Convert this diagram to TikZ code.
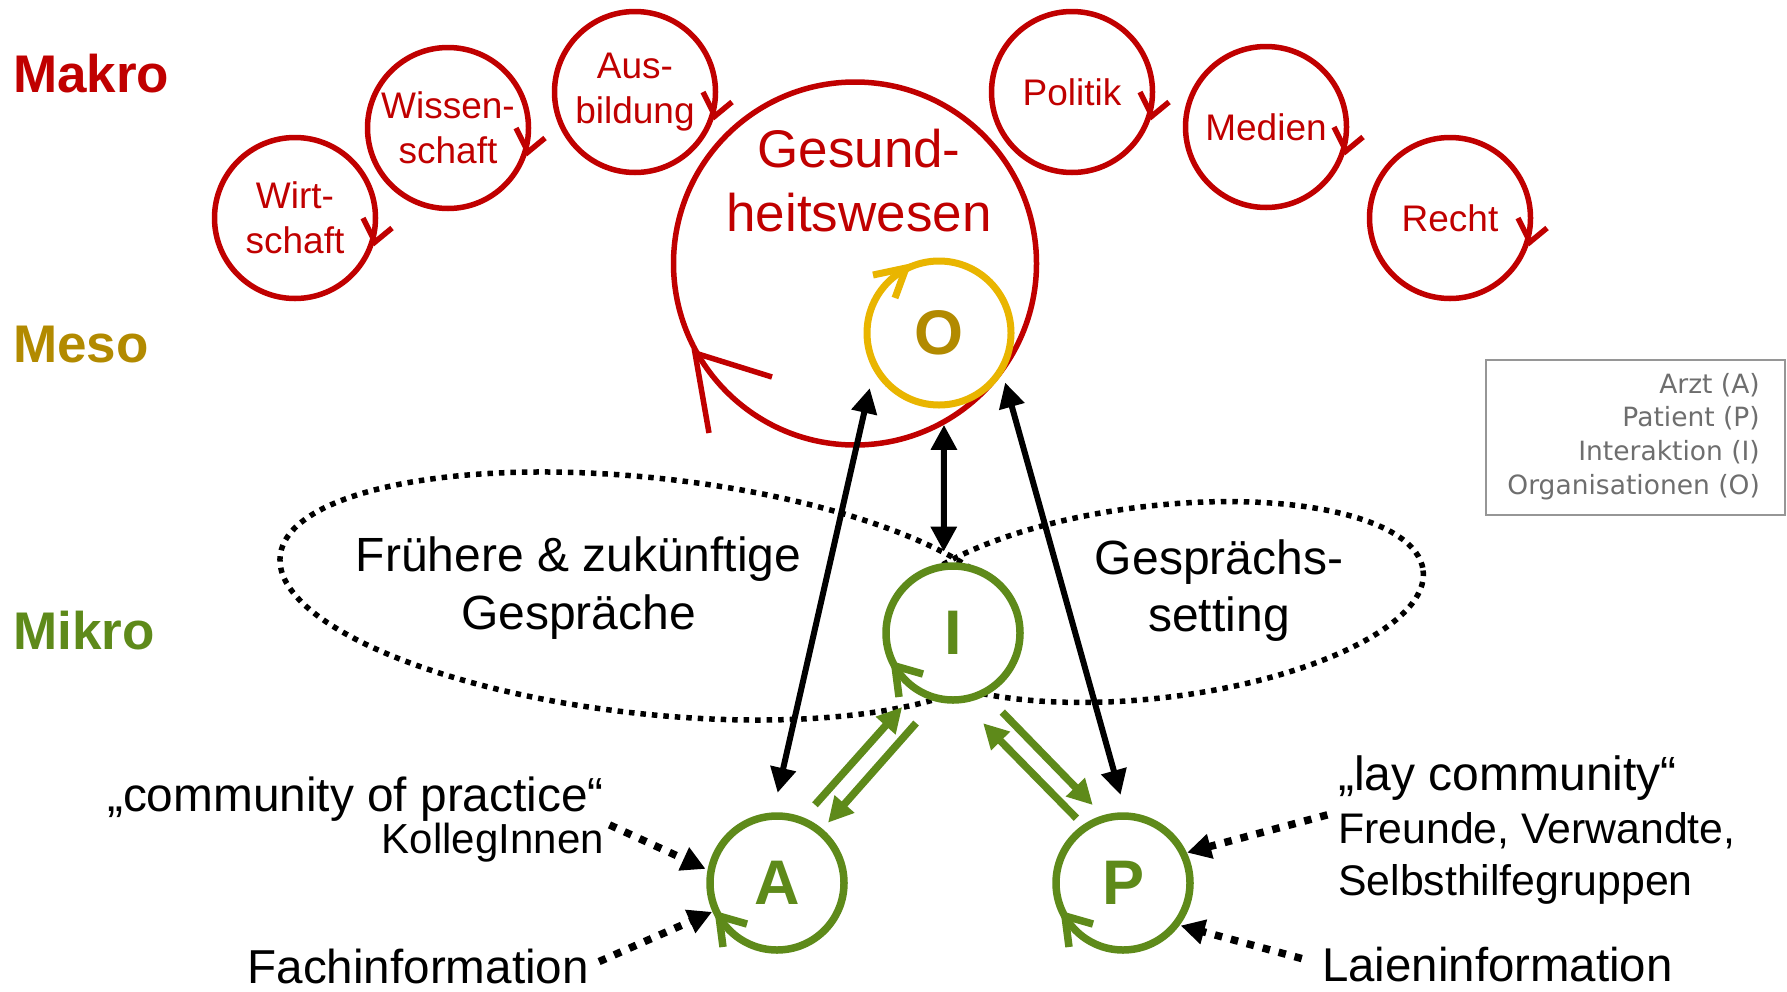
\documentclass[tikz,border=0pt]{standalone}
\usepackage{fontspec}
\setmainfont{Liberation Sans}
\newfontfamily\legendfont{DejaVu Sans}
\usetikzlibrary{calc,arrows.meta,shapes.geometric}
\definecolor{makrored}{RGB}{192,0,0}
\definecolor{mesogold}{RGB}{178,138,0}
\definecolor{orgyellow}{RGB}{233,181,0}
\definecolor{mikrogreen}{RGB}{94,138,26}
\definecolor{legendgray}{RGB}{110,110,110}
\definecolor{legendframe}{RGB}{150,150,150}
\def\loopmark[#1](#2)(#3)(#4)(#5){\draw[#1] ($(#2)+(#3)$) -- ($(#2)+(#4)$) -- ($(#2)+(#5)$);}
\newcommand{\fsize}[2]{\fontsize{#1}{#2}\selectfont}

\tikzset{
  levellabel/.style={anchor=base west, inner sep=0pt, font=\fsize{53}{64}\bfseries},
  sphere/.style={circle, draw=makrored, line width=5.5pt, minimum size=161pt, inner sep=0pt, outer sep=0pt, text=makrored, align=center, font=\fsize{37}{45}},
  actor/.style={circle, draw=mikrogreen, fill=white, line width=7.5pt, minimum size=134pt, inner sep=0pt, outer sep=0pt, text=mikrogreen, font=\fsize{63}{63}\bfseries},
  plaintext/.style={inner sep=0pt, text=black},
  dotring/.style={line width=5.5pt, dash pattern=on 5.5pt off 6pt},
  infoarrow/.style={line width=7.5pt, dash pattern=on 7.5pt off 9pt, -{Triangle[length=24pt,width=24pt]}},
  linkarrow/.style={line width=6pt, {Triangle[length=25pt,width=25pt]}-{Triangle[length=25pt,width=25pt]}},
  greenarrow/.style={draw=mikrogreen, line width=7.5pt, -{Triangle[length=25pt,width=25pt]}}
}

\begin{document}
\begin{tikzpicture}[x=1pt,y=-1pt]
\useasboundingbox (0,0) rectangle (1787,991);

% levels
\node[levellabel, text=makrored] (makro) at (13,92) {Makro};
\node[levellabel, text=mesogold] (meso) at (13,362) {Meso};
\node[levellabel, text=mikrogreen] (mikro) at (13,649) {Mikro};

% conversation contexts
\draw[dotring, rotate around={-6.2:(650,596)}] (650,596) ellipse (372 and 118);
\draw[dotring, rotate around={6.7:(1155,602)}] (1155,602) ellipse (270 and 96);

% macro systems
\node[sphere] (wirt) at (295,218) {Wirt-\\schaft};
\node[sphere] (wiss) at (448,128) {Wissen-\\schaft};
\node[sphere] (ausb) at (635,92) {Aus-\\bildung};
\node[sphere] (pol) at (1072,92) {Politik};
\node[sphere] (med) at (1266,127) {Medien};
\node[sphere] (recht) at (1450,218) {Recht};
\foreach \s in {wirt,wiss,ausb,pol,med,recht}
  {\loopmark[makrored, line width=5.5pt](\s)(68,0)(80,24)(97,10)}

\node[circle, draw=makrored, line width=5.5pt, minimum size=363pt, inner sep=0pt, outer sep=0pt] (gw) at (855,263.5) {};
\node[plaintext, text=makrored, align=center, font=\fsize{53}{64}] (gwtext) at (859,181) {Gesund-\\heitswesen};
\loopmark[makrored, line width=5.5pt](gw)(-83,113.5)(-160,89.5)(-146,169.5)

% meso
\node[circle, draw=orgyellow, fill=white, line width=7pt, minimum size=144pt, inner sep=0pt, outer sep=0pt, text=mesogold, font=\fsize{63}{63}\bfseries] (O) at (939,333) {O};
\loopmark[orgyellow, line width=7pt](O)(-66,-58)(-33,-65)(-44,-35)

% micro
\node[actor] (I) at (953,633) {I};
\node[actor] (A) at (777,883) {A};
\node[actor] (P) at (1123,883) {P};
\foreach \s in {I,A,P}
  {\loopmark[mikrogreen, line width=7.5pt](\s)(-30,41)(-58,33)(-54,64)}

\draw[linkarrow, shorten <=24pt, shorten >=23pt] (A.94) -- (O.207);
\draw[linkarrow, shorten <=15pt, shorten >=20pt] (I.98) -- (O.-86);
\draw[linkarrow, shorten <=22pt, shorten >=14pt] (P.87) -- (O.-30);

\draw[greenarrow, shorten <=21pt, shorten >=23pt] (A.69) -- (I.238);
\draw[greenarrow, shorten <=33pt, shorten >=12pt] (I.257) -- (A.50);
\draw[greenarrow, shorten <=27pt, shorten >=18.5pt] (I.-63) -- (P.105);
\draw[greenarrow, shorten <=13pt, shorten >=33pt] (P.124) -- (I.-84);

% texts
\node[plaintext, align=center, font=\fsize{48}{58}] (frueher) at (578.5,588) {Frühere \& zukünftige\\Gespräche};
\node[plaintext, align=center, font=\fsize{48}{57}] (setting) at (1219,591) {Gesprächs-\\setting};
\node[plaintext, anchor=base east, font=\fsize{47.8}{56}] (comm) at (604,811) {„community of practice“};
\node[plaintext, anchor=base east, font=\fsize{42}{50}] (koll) at (604,853) {KollegInnen};
\node[plaintext, anchor=base east, font=\fsize{47.6}{56}] (fach) at (589,983) {Fachinformation};
\node[plaintext, anchor=base west, font=\fsize{48}{58}] (lay) at (1338,790) {„lay community“};
\node[plaintext, anchor=north west, align=left, font=\fsize{42.8}{52}] (freunde) at (1338,812) {Freunde, Verwandte,\\Selbsthilfegruppen};
\node[plaintext, anchor=base west, font=\fsize{47.4}{56}] (laien) at (1322,981) {Laieninformation};

\draw[infoarrow, shorten <=6pt, shorten >=6pt] (koll.north east) -- (A.170);
\draw[infoarrow, shorten <=11pt, shorten >=4pt] (fach.east) -- (A.204);
\draw[infoarrow, shorten <=11pt, shorten >=4pt] (freunde.north west) -- (P.26);
\draw[infoarrow, shorten <=21pt, shorten >=5pt] (laien.west) -- (P.-38);

% legend
\node[draw=legendframe, line width=1.5pt, minimum width=299pt, minimum height=155pt, anchor=north west, inner sep=0pt, outer sep=0pt] (legendbox) at (1486,360) {};
\node[anchor=north east, align=right, inner sep=0pt, text=legendgray, font=\legendfont\fsize{26.5}{33.6}] (legend) at (1760,373) {Arzt (A)\\Patient (P)\\Interaktion (I)\\Organisationen (O)};
\end{tikzpicture}
\end{document}
